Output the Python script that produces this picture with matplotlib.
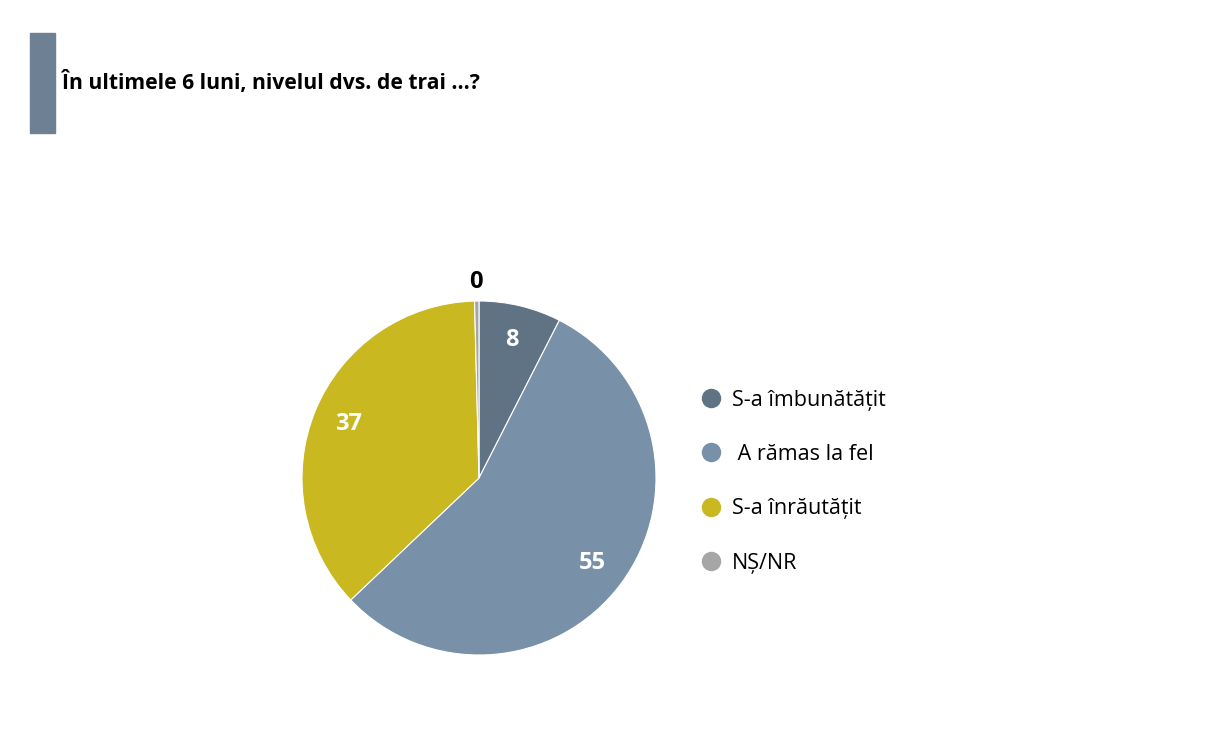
import matplotlib
matplotlib.use("Agg")
import matplotlib.pyplot as plt
from matplotlib.lines import Line2D
from matplotlib.patches import Rectangle
import numpy as np

plt.rcParams['font.family'] = ['Open Sans', 'DejaVu Sans']

title = "În ultimele 6 luni, nivelul dvs. de trai ...?"
categories = ["S-a îmbunătățit", "A rămas la fel", "S-a înrăutățit", "NȘ/NR"]
values = [7.5, 55.4, 36.7, 0.4]
labels_shown = [str(int(round(v))) for v in values]
colors = ["#5F7384", "#7891A8", "#C9B820", "#A6A6A6"]

W, H = 1212, 756
fig = plt.figure(figsize=(W / 100, H / 100), dpi=100)

# title bar
fig.patches.append(Rectangle((30 / W, 1 - 133 / H), 25 / W, 100 / H,
                             transform=fig.transFigure, color="#6E8093", zorder=1))
fig.text(62 / W, 1 - 83 / H, title, fontsize=15.2, fontweight="bold",
         va="center", ha="left", color="black")

cx, cy, r = 479, 478, 177
ax = fig.add_axes([(cx - r) / W, 1 - (cy + r) / H, 2 * r / W, 2 * r / H])
wedges, _ = ax.pie(values, colors=colors, startangle=90, counterclock=False,
                   wedgeprops=dict(edgecolor="white", linewidth=0.8), radius=1)
ax.set_xlim(-1, 1)
ax.set_ylim(-1, 1)
ax.set_aspect("equal")
ax.axis("off")

for i, (w, lab) in enumerate(zip(wedges, labels_shown)):
    ang = np.deg2rad((w.theta1 + w.theta2) / 2)
    if i == 3:
        ax.text(-0.02, 1.11, lab, ha="center", va="center", fontsize=17,
                fontweight="bold", color="black")
    else:
        d = 0.8
        ax.text(d * np.cos(ang), d * np.sin(ang), lab, ha="center", va="center",
                fontsize=17, fontweight="bold", color="white")

handles = [Line2D([], [], marker="o", linestyle="none", markersize=13,
                  markerfacecolor=c, markeredgecolor=c) for c in colors]
leg_labels = [categories[0], " " + categories[1], categories[2], categories[3]]
leg = fig.legend(handles, leg_labels, loc="upper left",
                 bbox_to_anchor=(692 / W, 1 - 381 / H), frameon=False,
                 fontsize=15.5, labelspacing=1.55, handletextpad=0.45,
                 handlelength=1.0, borderaxespad=0)

fig.savefig("out.png", dpi=100, facecolor="white")
